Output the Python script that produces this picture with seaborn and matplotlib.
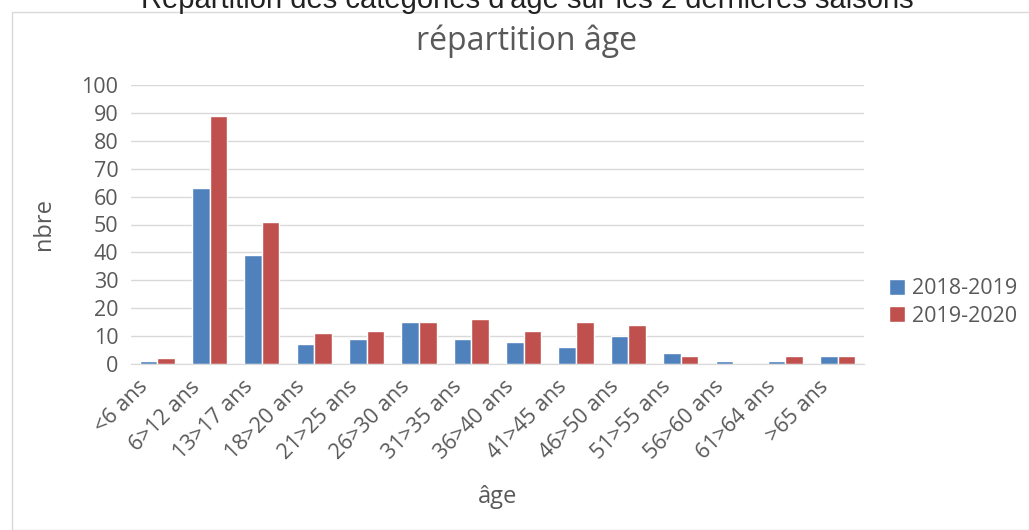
import matplotlib
matplotlib.use("Agg")
import matplotlib.pyplot as plt
import matplotlib.transforms as mtransforms
import pandas as pd
import seaborn as sns
from matplotlib.patches import Rectangle

# -------------------------------------------------------------------
# Data
# -------------------------------------------------------------------
categories = ["<6 ans", "6>12 ans", "13>17 ans", "18>20 ans", "21>25 ans",
              "26>30 ans", "31>35 ans", "36>40 ans", "41>45 ans", "46>50 ans",
              "51>55 ans", "56>60 ans", "61>64 ans", ">65 ans"]
season_1 = [1, 63, 39, 7, 9, 15, 9, 8, 6, 10, 4, 1, 1, 3]
season_2 = [2, 89, 51, 11, 12, 15, 16, 12, 15, 14, 3, 0, 3, 3]
seasons = ["2018-2019", "2019-2020"]
colors = ["#4F81BD", "#C0504D"]

df = pd.DataFrame({
    "age": categories * 2,
    "nbre": season_1 + season_2,
    "saison": [seasons[0]] * len(categories) + [seasons[1]] * len(categories),
})

# -------------------------------------------------------------------
# Plot
# -------------------------------------------------------------------
sns.set_style("white")
plt.rcParams["font.family"] = ["Open Sans", "DejaVu Sans"]
txt = "#595959"

fig = plt.figure(figsize=(10.29, 5.30), dpi=100)
ax = fig.add_axes([131 / 1029, 1 - 364 / 530, (864 - 131) / 1029, (364 - 85) / 530])

sns.barplot(data=df, x="age", y="nbre", hue="saison", palette=colors,
            width=0.67, gap=0, saturation=1, ax=ax, legend=True)

ax.set_ylim(0, 100)
ax.set_yticks(range(0, 101, 10))
ax.set_xlim(-0.5, len(categories) - 0.5)
ax.yaxis.grid(True, color="#D9D9D9", linewidth=1)
ax.set_axisbelow(True)
for side in ["top", "right", "left"]:
    ax.spines[side].set_visible(False)
ax.spines["bottom"].set_color("#D9D9D9")
ax.tick_params(axis="both", length=0, colors=txt, labelsize=15.5)
ax.tick_params(axis="x", pad=9)
ax.tick_params(axis="y", pad=9)

# rotated labels, end of text sitting a little left of the category centre
shift = mtransforms.ScaledTranslation(-20 / 100, 0, fig.dpi_scale_trans)
for lab in ax.get_xticklabels():
    lab.set_rotation(45)
    lab.set_ha("right")
    lab.set_rotation_mode("anchor")
    lab.set_transform(lab.get_transform() + shift)

ax.set_xlabel("âge", color=txt, fontsize=17)
ax.xaxis.set_label_coords(0.5, -0.435)
ax.set_ylabel("nbre", color=txt, fontsize=17, labelpad=18)

fig.text(526 / 1029, 1 - 41 / 530, "répartition âge", color=txt, fontsize=23,
         ha="center", va="center")

leg = ax.legend(loc="center left", bbox_to_anchor=(1.008, 0.22), frameon=False,
                fontsize=15.5, handlelength=0.75, handleheight=0.75,
                handletextpad=0.3, labelspacing=0.3)
for t in leg.get_texts():
    t.set_color(txt)

# chart frame and cropped outer heading
fig.patches.append(Rectangle((12 / 1029, 0), 1.2, 1 - 12 / 530, transform=fig.transFigure,
                             fill=False, edgecolor="#D9D9D9", linewidth=1))
fig.text(0.512, 1 - 8 / 530, "Répartition des catégories d'âge sur les 2 dernières saisons",
         ha="center", va="baseline", fontsize=21, color="#222222",
         family=["Liberation Sans", "DejaVu Sans"])

fig.savefig("out.png", dpi=100)
plt.close(fig)
